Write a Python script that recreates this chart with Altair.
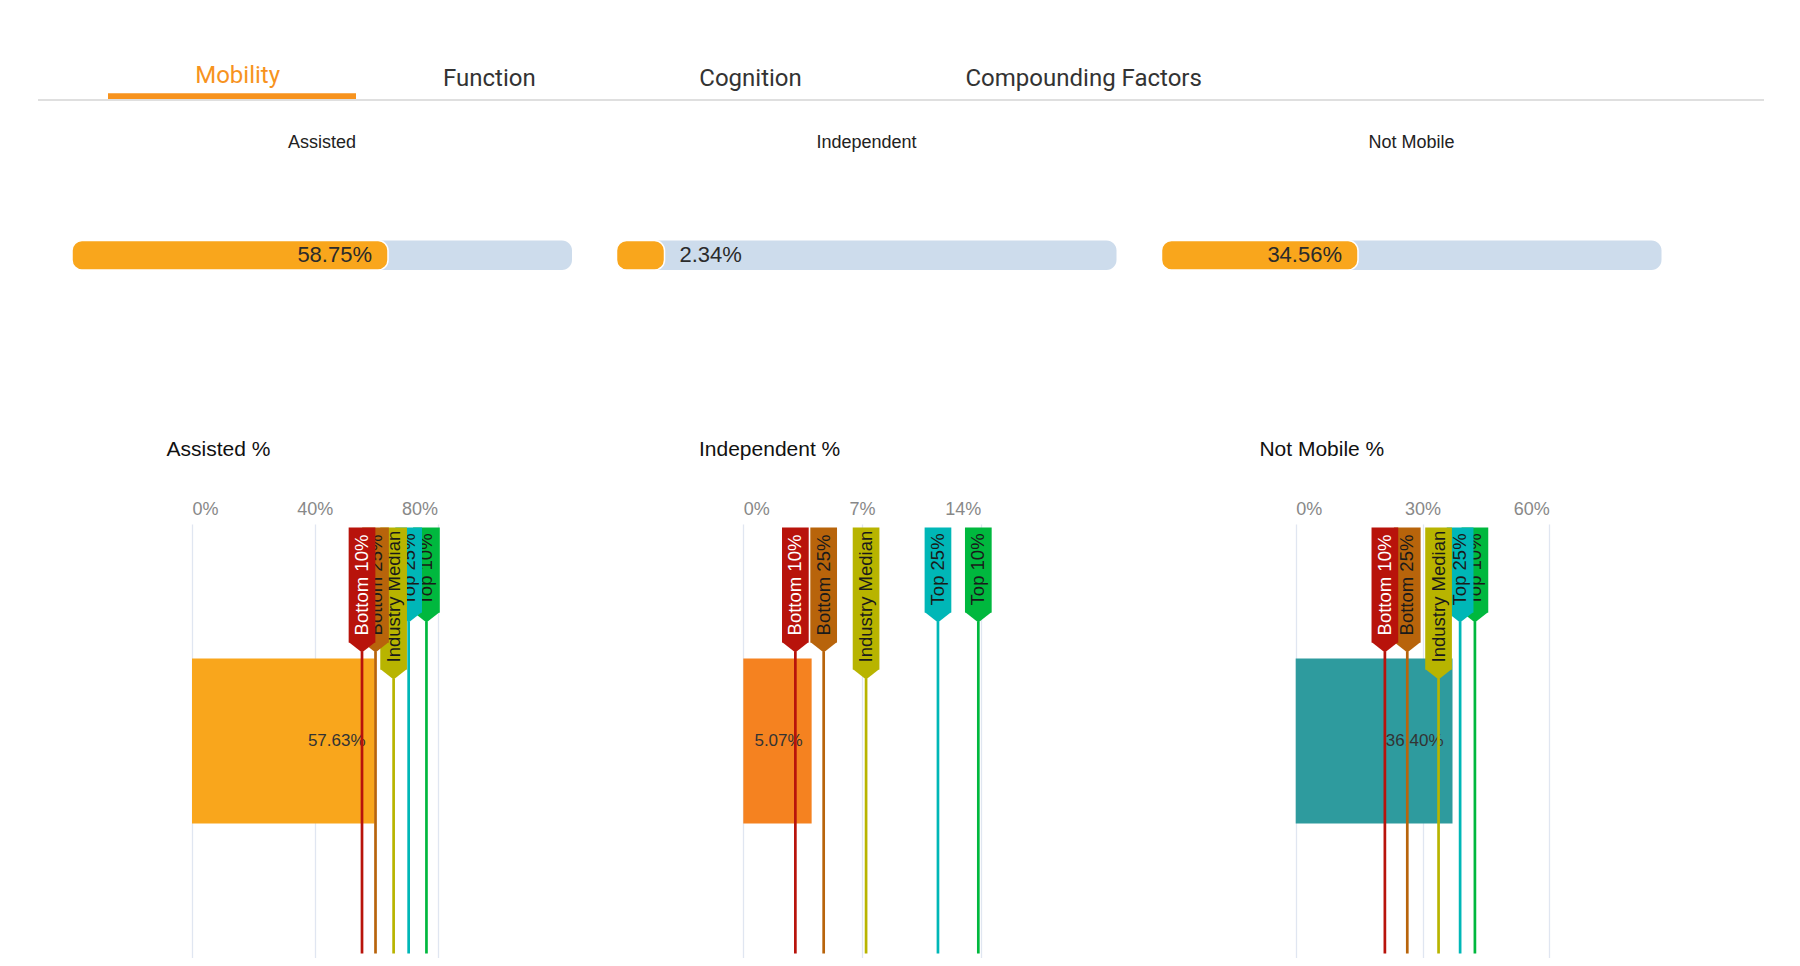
import altair as alt
import pandas as pd

# ---------------- data ----------------
TABS = ["Mobility", "Function", "Cognition", "Compounding Factors"]
ACTIVE_TAB = "Mobility"

CATEGORIES = ["Assisted", "Independent", "Not Mobile"]
SHARE_LABELS = ["58.75%", "2.34%", "34.56%"]
SHARE_FILL = [63.2, 9.6, 39.3]          # filled part of each track (% of track)

CHART_TITLES = ["Assisted %", "Independent %", "Not Mobile %"]
BAR_VALUES = [59.5, 4.03, 37.1]          # bar lengths
BAR_LABELS = ["57.63%", "5.07%", "36.40%"]
AXIS_TICKS = [[0, 40, 80], [0, 7, 14], [0, 30, 60]]

BENCH_NAMES = ["Bottom 10%", "Bottom 25%", "Industry Median", "Top 25%", "Top 10%"]
BENCH_VALUES = [
    [55.4, 59.8, 65.7, 70.6, 76.4],
    [3.07, 4.74, 7.24, 11.48, 13.86],
    [21.1, 26.4, 33.8, 38.9, 42.4],
]

# ---------------- style / layout ----------------
FONT = "Liberation Sans"
TAB_FONT = "Roboto"
ORANGE_TAB = "#f7931e"
TRACK_COLOR = "#cddcec"
FILL_COLOR = "#f9a61c"
GRID = "#e0e6f1"
BAR_COLORS = ["#f9a61c", "#f58220", "#2e9b9e"]
BENCH_COLORS = ["#b8130b", "#b8640b", "#b8b400", "#00b7b7", "#00b83e"]
BENCH_TEXT = ["#ffffff", "#1a1a1a", "#1a1a1a", "#1a1a1a", "#1a1a1a"]
DRAW_ORDER = [4, 3, 2, 1, 0]

SLOT_W = 551
TOP_H = 515.3
BOT_H = 434

TAB_X = [187.2, 435, 691.3, 957.5]
TAB_BASE_ACTIVE = 75.3
TAB_BASE = 78

TRACK_RANGES = [[64, 564], [57.5, 557.5], [51.5, 551.5]]
TRACK_Y = [232.5, 262]
SUB_BASE = 140.3

PLOT_RANGES = [[184, 429.5], [184.3, 421.7], [185.7, 439.3]]
TITLE_X = [158.5, 140, 149.4]
TITLE_BASE = -67.6
BAR_THICK = 165
BAR_PAD = (BOT_H / BAR_THICK - 1) / 2
BOX_TOP = 3.4
BOX_LEN = {"Bottom 10%": 115, "Bottom 25%": 115, "Industry Median": 142,
           "Top 25%": 85, "Top 10%": 85}
BOX_HALF = 13.35
ARROW = 10


def tab_layers():
    one = pd.DataFrame({"k": [0]})
    layers = [
        alt.Chart(one).mark_rule(color="#d4d4d4", strokeWidth=1.5).encode(
            x=alt.value(30), x2=alt.value(1756), y=alt.value(92)),
        alt.Chart(one).mark_rule(color=ORANGE_TAB, strokeWidth=5.7).encode(
            x=alt.value(100), x2=alt.value(348), y=alt.value(88.15)),
    ]
    for k, t in enumerate(TABS):
        active = t == ACTIVE_TAB
        layers.append(
            alt.Chart(pd.DataFrame({"tab": [t]})).mark_text(
                font=TAB_FONT, fontSize=24, align="left", baseline="alphabetic",
                color=ORANGE_TAB if active else "#333333",
            ).encode(
                x=alt.value(TAB_X[k]),
                y=alt.value(TAB_BASE_ACTIVE if active else TAB_BASE),
                text="tab:N",
            )
        )
    return layers


def progress(i):
    cat = CATEGORIES[i]
    df = pd.DataFrame({"cat": [cat], "start": [0], "total": [100],
                       "fill": [SHARE_FILL[i]], "label": [SHARE_LABELS[i]], "mid": [50]})
    xs = alt.Scale(domain=[0, 100], range=TRACK_RANGES[i])
    ys = alt.Scale(domain=[cat], range=TRACK_Y, paddingInner=0, paddingOuter=0)

    def X(f):
        return alt.X(f, scale=xs, axis=None)

    Y = alt.Y("cat:N", scale=ys, axis=None)
    base = alt.Chart(df)
    track = base.mark_bar(color=TRACK_COLOR, cornerRadius=10).encode(
        x=X("start:Q"), x2="total:Q", y=Y)
    fill = base.mark_bar(color=FILL_COLOR, cornerRadius=10, stroke="white",
                         strokeWidth=1.5).encode(x=X("start:Q"), x2="fill:Q", y=Y)
    inside = SHARE_FILL[i] >= 20
    lab = base.mark_text(
        font=FONT, fontSize=22, color="#2b2b2b",
        align="right" if inside else "left", dx=-16 if inside else 15,
        baseline="middle",
    ).encode(x=X("fill:Q"), y=Y, text="label:N")
    sub = base.mark_text(font=FONT, fontSize=18, color="#222222", align="center",
                         baseline="alphabetic").encode(
        x=X("mid:Q"), y=alt.value(SUB_BASE), text="cat:N")
    layers = [track, fill, lab, sub]
    if i == 0:
        layers = tab_layers() + layers
    return alt.layer(*layers).properties(width=SLOT_W, height=TOP_H)


def bench_chart(i):
    cat = CATEGORIES[i]
    ticks = AXIS_TICKS[i]
    xs = alt.Scale(domain=[ticks[0], ticks[-1]], range=PLOT_RANGES[i], nice=False)
    axis = alt.Axis(
        orient="top", values=ticks, labelExpr="datum.value + '%'",
        grid=True, gridColor=GRID, gridWidth=1.3, domain=False, ticks=False,
        tickSize=0, labelFlush=True, labelFont=FONT, labelFontSize=18,
        labelColor="#888888", labelPadding=9.6, labelBaseline="alphabetic",
    )

    def X(f):
        return alt.X(f, scale=xs, axis=axis, title="")

    ys = alt.Scale(domain=[cat], paddingInner=0, paddingOuter=BAR_PAD)
    Y = alt.Y("cat:N", scale=ys, axis=None)

    df = pd.DataFrame({"cat": [cat], "zero": [0], "v": [BAR_VALUES[i]],
                       "label": [BAR_LABELS[i]], "title": [CHART_TITLES[i]]})
    base = alt.Chart(df)
    title = base.mark_text(font=FONT, fontSize=21, color="#111111", align="left",
                           baseline="alphabetic").encode(
        x=alt.value(TITLE_X[i]), y=alt.value(TITLE_BASE), text="title:N")
    bar = base.mark_bar(color=BAR_COLORS[i]).encode(x=X("zero:Q"), x2="v:Q", y=Y)
    barlab = base.mark_text(font=FONT, fontSize=17, color="#333333", align="right",
                            dx=-9, baseline="middle").encode(
        x=X("v:Q"), y=Y, text="label:N")

    layers = [title, bar, barlab]
    for j in DRAW_ORDER:
        name = BENCH_NAMES[j]
        col = BENCH_COLORS[j]
        mdf = pd.DataFrame({"name": [name], "value": [BENCH_VALUES[i][j]]})
        mb = alt.Chart(mdf)
        rb = BOX_TOP + BOX_LEN[name]
        tip = rb + ARROW
        rule = mb.mark_rule(color=col, strokeWidth=2.7).encode(
            x=X("value:Q"), y=alt.value(tip - 1), y2=alt.value(BOT_H - 4.6))
        rect = mb.mark_rect(color=col, xOffset=-BOX_HALF, x2Offset=BOX_HALF).encode(
            x=X("value:Q"), x2="value:Q", y=alt.value(BOX_TOP), y2=alt.value(rb))
        arrow = mb.mark_point(shape="M-1,-0.03L1,-0.03L0,0.75Z",
                              size=(2 * BOX_HALF) ** 2, filled=True, opacity=1,
                              color=col, strokeWidth=0).encode(
            x=X("value:Q"), y=alt.value(rb))
        txt = mb.mark_text(font=FONT, fontSize=18.5, angle=270, align="left",
                           baseline="middle", color=BENCH_TEXT[j]).encode(
            x=X("value:Q"), y=alt.value(rb - 7), text="name:N")
        layers += [rule, rect, arrow, txt]
    return alt.layer(*layers).properties(width=SLOT_W, height=BOT_H)


cells = [progress(i) for i in range(3)] + [bench_chart(i) for i in range(3)]
chart = alt.concat(*cells, columns=3, spacing=0, bounds="flush").properties(
    padding=0
).configure_view(strokeWidth=0)

chart.save("out.html", embed_options={"renderer": "svg", "actions": False})
